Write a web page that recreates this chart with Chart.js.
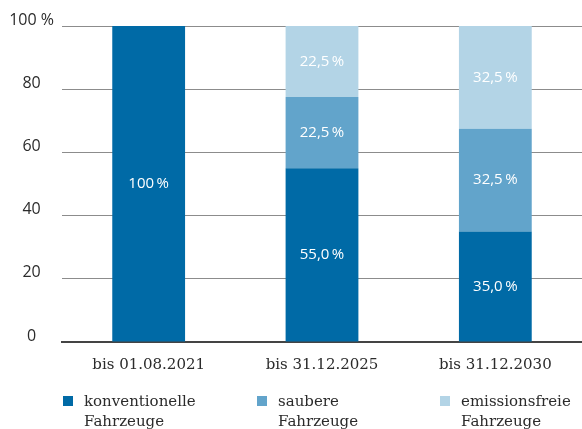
<!DOCTYPE html>
<html>
<head>
<meta charset="utf-8">
<script src="https://cdn.jsdelivr.net/npm/chart.js@4/dist/chart.umd.min.js"></script>
<style>
  html, body { margin: 0; padding: 0; background: #fff; }
  #wrap { position: relative; width: 582px; height: 429px; }
</style>
</head>
<body>
<div id="wrap"><canvas id="chart"></canvas></div>
<script>
// Kategorien und Anteile (in %)
const categories = ['bis 01.08.2021', 'bis 31.12.2025', 'bis 31.12.2030'];
const konventionell = [100, 55, 35];
const sauber = [0, 22.5, 32.5];
const emissionsfrei = [0, 22.5, 32.5];
const seriesNames = [['konventionelle', 'Fahrzeuge'], ['saubere', 'Fahrzeuge'], ['emissionsfreie', 'Fahrzeuge']];
const yTicks = [0, 20, 40, 60, 80, 100];

const colors = ['#006aa6', '#62a4cb', '#b3d4e6'];
const sansFont = "'Open Sans', 'DejaVu Sans', sans-serif";
const serifFont = "'DejaVu Serif', 'Liberation Serif', serif";

// Zahl im deutschen Format
const fmt = (v) => v === 100 ? '100\u2009%' : v.toFixed(1).replace('.', ',') + '\u2009%';

// Werte mittig in die Balken schreiben
const barLabels = {
  id: 'barLabels',
  afterDatasetsDraw(chart) {
    const ctx = chart.ctx;
    ctx.save();
    ctx.fillStyle = '#ffffff';
    ctx.font = '15px ' + sansFont;
    ctx.textAlign = 'center';
    ctx.textBaseline = 'middle';
    chart.data.datasets.forEach((ds, i) => {
      const meta = chart.getDatasetMeta(i);
      meta.data.forEach((bar, j) => {
        const v = ds.data[j];
        if (!v) return;
        const p = bar.getProps(['x', 'y', 'base'], true);
        ctx.fillText(fmt(v), p.x, (p.y + p.base) / 2);
      });
    });
    ctx.restore();
  }
};

// Legende unten, zweizeilig
const bottomLegend = {
  id: 'bottomLegend',
  afterDraw(chart) {
    const ctx = chart.ctx;
    const xs = [63, 257, 440];
    const top = 396;
    ctx.save();
    ctx.font = '15px ' + serifFont;
    ctx.textBaseline = 'middle';
    ctx.textAlign = 'left';
    chart.data.datasets.forEach((ds, i) => {
      ctx.fillStyle = ds.backgroundColor;
      ctx.fillRect(xs[i], top, 10, 10);
      ctx.fillStyle = '#2b2b2b';
      seriesNames[i].forEach((line, k) => {
        ctx.fillText(line, xs[i] + 21, top + 6 + k * 20);
      });
    });
    ctx.restore();
  }
};

new Chart(document.getElementById('chart'), {
  type: 'bar',
  data: {
    labels: categories,
    datasets: [
      { label: seriesNames[0].join(' '), data: konventionell, backgroundColor: colors[0] },
      { label: seriesNames[1].join(' '), data: sauber, backgroundColor: colors[1] },
      { label: seriesNames[2].join(' '), data: emissionsfrei, backgroundColor: colors[2] }
    ]
  },
  options: {
    responsive: true,
    maintainAspectRatio: false,
    animation: false,
    datasets: {
      bar: { barPercentage: 0.42, categoryPercentage: 1, borderWidth: 0 }
    },
    layout: { padding: { top: 26, right: 0, bottom: 57, left: 0 } },
    plugins: {
      legend: { display: false },
      tooltip: { enabled: false }
    },
    scales: {
      x: {
        stacked: true,
        grid: { display: false },
        border: { display: true, color: '#444', width: 2 },
        ticks: {
          color: '#2b2b2b',
          font: { family: serifFont, size: 15 },
          padding: 6
        },
        afterFit(scale) { scale.height = 30; }
      },
      y: {
        stacked: true,
        min: 0,
        max: 100,
        afterBuildTicks(scale) { scale.ticks = yTicks.map(v => ({ value: v })); },
        border: { display: false },
        grid: {
          color: (c) => c.tick && c.tick.value === 0 ? 'rgba(0,0,0,0)' : '#8c8c8c',
          lineWidth: 1,
          drawTicks: false
        },
        ticks: {
          color: '#2b2b2b',
          font: { family: sansFont, size: 16 },
          crossAlign: 'center',
          labelOffset: -6,
          padding: 8,
          callback: (v) => v === 100 ? '100 %' : v
        },
        afterFit(scale) { scale.width = 62; }
      }
    }
  },
  plugins: [barLabels, bottomLegend]
});
</script>
</body>
</html>
